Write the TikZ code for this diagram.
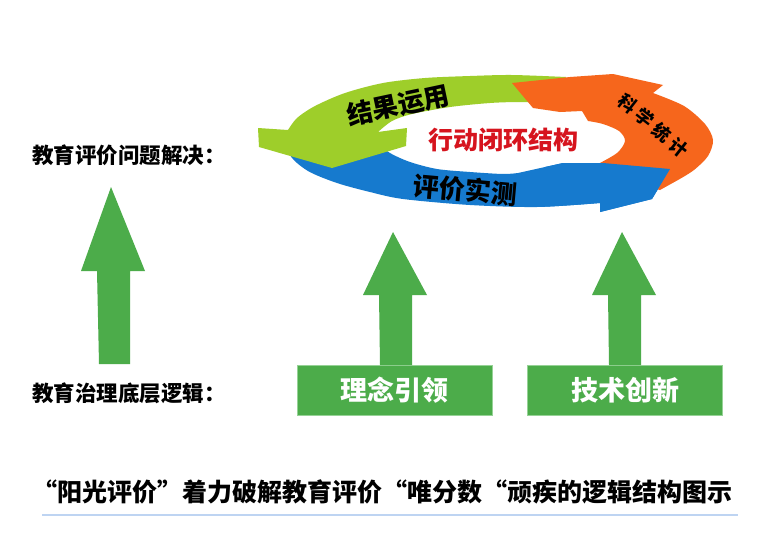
\documentclass[tikz,border=0pt]{standalone}
\usepackage{fontspec}
\newfontfamily\cjk{Noto Sans CJK SC}
\definecolor{upgreen}{RGB}{76,172,74}
\definecolor{boxedge}{RGB}{150,210,150}
\definecolor{limec}{RGB}{158,206,42}
\definecolor{orangec}{RGB}{246,102,28}
\definecolor{bluec}{RGB}{22,122,206}
\definecolor{redtxt}{RGB}{214,20,30}
\definecolor{lineblue}{RGB}{190,212,242}
\tikzset{
  lbl/.style={font=\cjk\bfseries\fontsize{21.5}{24}\selectfont, text=black, inner sep=0pt},
  boxnode/.style={fill=upgreen, draw=boxedge, line width=0.8pt, minimum width=195pt, minimum height=50pt, inner sep=0pt,
     font=\cjk\bfseries\fontsize{27}{30}\selectfont, text=white},
  uparrow/.style={fill=upgreen},
  ringtxt/.style={font=\cjk\bfseries\fontsize{26}{28}\selectfont, text=black, inner sep=0pt},
  diagchar/.style={font=\cjk\bfseries\fontsize{18}{20}\selectfont, text=black, inner sep=0pt, rotate=-38},
}
\begin{document}
\begin{tikzpicture}[x=1pt,y=-1pt]
\useasboundingbox (0,0) rectangle (778,549);
\fill[white] (0,0) rectangle (778,549);

% ---- cycle ----
\fill[bluec] plot[smooth] coordinates {(287,132) (290,155) (308,171) (337,183) (370,192) (403,199) (470,205) (537,207) (600,203)}
  -- (600,212) -- (652,199) -- (670,169) -- (603,163) -- (563,163) -- (518,173)
  -- plot[smooth] coordinates {(518,173) (503,174) (470,172) (437,169) (410,162) (390,153) (378,143) (376,134)} -- cycle;

\fill[limec] plot[smooth] coordinates {(566,77) (512,75) (470,76) (425,78) (383,83) (345,93) (315,106) (297,118) (288,130)}
  -- (258,128) -- (259,147) -- (332,168) -- (406,146) -- (407,128) -- (378,132)
  -- plot[smooth] coordinates {(378,132) (392,121) (412,114) (450,107) (490,103) (520,102) (545,103)} -- cycle;

\fill[orangec] (512,83) -- (570,77) -- (613,74) -- (663,85) -- (653,93)
  -- plot[smooth] coordinates {(653,93) (684,106) (705,124) (713,140) (708,156) (694,170) (678,180)}
  -- (660,190) -- (600,175)
  -- plot[smooth] coordinates {(598,164) (617,153) (625,141) (619,131) (603,124) (588,121)}
  -- (582,111) -- (560,112) -- (533,108) -- cycle;

\begin{scope}
\clip (545,150) rectangle (700,220);
\fill[bluec] plot[smooth] coordinates {(287,132) (290,155) (308,171) (337,183) (370,192) (403,199) (470,205) (537,207) (600,203)}
  -- (600,212) -- (652,199) -- (670,169) -- (603,163) -- (563,163) -- (518,173)
  -- plot[smooth] coordinates {(518,173) (503,174) (470,172) (437,169) (410,162) (390,153) (378,143) (376,134)} -- cycle;
\end{scope}

\node[ringtxt, rotate=12] (t1) at (398,105) {结果运用};
\node[ringtxt, rotate=-5] (t2) at (465,190) {评价实测};
\node[diagchar] (t3a) at (628,104) {科};
\node[diagchar] (t3b) at (645,118) {学};
\node[diagchar] (t3c) at (662,133) {统};
\node[diagchar] (t3d) at (679,148) {计};
\node[ringtxt, text=redtxt, font=\cjk\bfseries\fontsize{25}{27}\selectfont] (t4) at (503,140) {行动闭环结构};

% ---- labels ----
\node[lbl, anchor=west] (top) at (32,155) {教育评价问题解决：};
\node[lbl, anchor=west] (bot) at (32,393) {教育治理底层逻辑：};

% ---- boxes ----
\node[boxnode] (b1) at (394.5,390) {理念引领};
\node[boxnode] (b2) at (625,390) {技术创新};

% ---- up arrows ----
\fill[uparrow] (99,364) -- (97,271) -- (81,271) -- (111,187) -- (145,271) -- (130,271) -- (130,364) -- cycle;
\fill[uparrow] (380,365) -- (379,295) -- (363,295) -- (393,232) -- (427,295) -- (412,295) -- (412,365) -- cycle;
\fill[uparrow] (609,365) -- (608,295) -- (592,295) -- (622,232) -- (656,295) -- (641,295) -- (641,365) -- cycle;

% ---- title ----
\node[lbl, font=\cjk\bfseries\fontsize{25}{28}\selectfont] (title) at (382,492) {“阳光评价”着力破解教育评价“唯分数“顽疾的逻辑结构图示};
\coordinate (la) at (42,515);
\coordinate (lb) at (738,515);
\draw[lineblue, line width=1.2pt] (la) -- (lb);
\end{tikzpicture}
\end{document}
